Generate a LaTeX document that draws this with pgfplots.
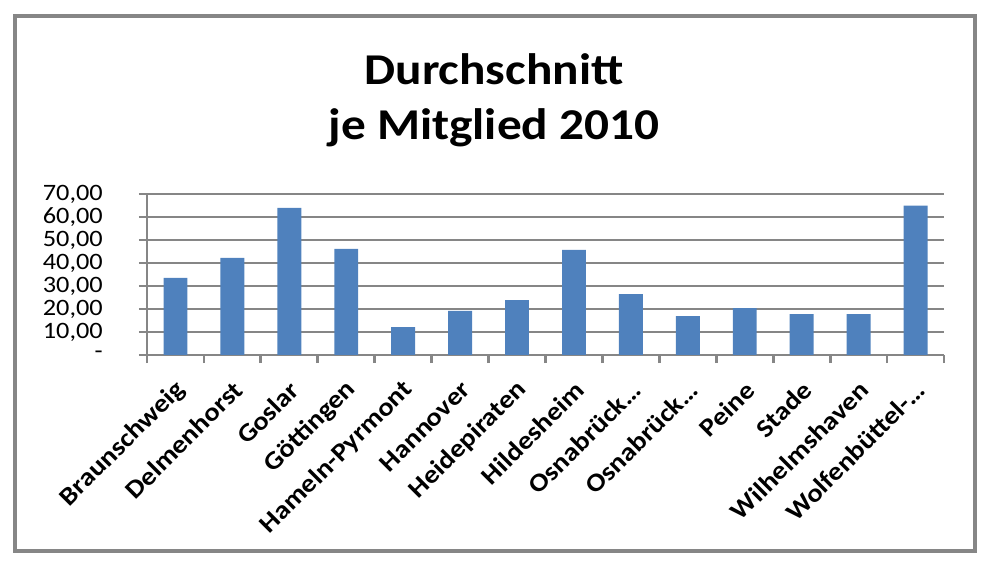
\documentclass[border=0pt]{standalone}
\usepackage{pgfplots}
\pgfplotsset{compat=1.18}
\usepackage{fontspec}
\setmainfont{Carlito}[FakeStretch=1.12]
\definecolor{gridgray}{HTML}{868686}
\definecolor{barblue}{HTML}{4F81BD}
\begin{document}
\begin{tikzpicture}
\useasboundingbox (0bp,0bp) rectangle (992bp,578bp);
\draw[gridgray, line width=3.5bp] (15bp,27bp) rectangle (975bp,562bp);
\node[anchor=base, inner sep=0pt, font=\fontsize{44bp}{55bp}\selectfont\bfseries] at (494bp,493bp) {Durchschnitt};
\node[anchor=base, inner sep=0pt, font=\fontsize{44bp}{55bp}\selectfont\bfseries] at (494bp,438bp) {je Mitglied 2010};
\begin{axis}[
  at={(147bp,223bp)}, anchor=south west,
  scale only axis, width=797bp, height=161bp,
  ymin=0, ymax=70, xmin=-0.5, xmax=13.5,
  axis lines*=left,
  axis line style={gridgray, line width=2.8bp},
  ytick={0,10,...,70},
  yticklabels={-\hspace{12bp},{10,00},{20,00},{30,00},{40,00},{50,00},{60,00},{70,00}},
  xtick={0,...,13},
  xticklabels={Braunschweig,Delmenhorst,Goslar,Göttingen,Hameln-Pyrmont,Hannover,Heidepiraten,Hildesheim,Osnabrück…,Osnabrück…,Peine,Stade,Wilhelmshaven,Wolfenbüttel-…},
  minor xtick={-0.5,0.5,...,13.5},
  tick align=outside,
  major tick length=8bp, minor tick length=8bp,
  x tick style={draw=none},
  minor x tick style={draw=gridgray, line width=2.8bp},
  y tick style={draw=gridgray, line width=2.8bp},
  ymajorgrids,
  grid style={gridgray, line width=2.8bp},
  yticklabel style={font=\fontsize{23.5bp}{26bp}\selectfont, anchor=east, inner sep=0pt, xshift=-36bp},
  xticklabel style={font=\fontsize{25.5bp}{28bp}\selectfont\bfseries, rotate=45, anchor=east, inner sep=0pt, xshift=-12bp, yshift=-20bp},
  ybar, bar width=0.42,
]
\addplot[fill=barblue, draw=none] coordinates {(0,33.5) (1,42.2) (2,64.0) (3,46.1) (4,12.1) (5,19.2) (6,23.9) (7,45.7) (8,26.5) (9,16.9) (10,20.4) (11,17.8) (12,17.8) (13,64.9)};
\end{axis}
\end{tikzpicture}
\end{document}
